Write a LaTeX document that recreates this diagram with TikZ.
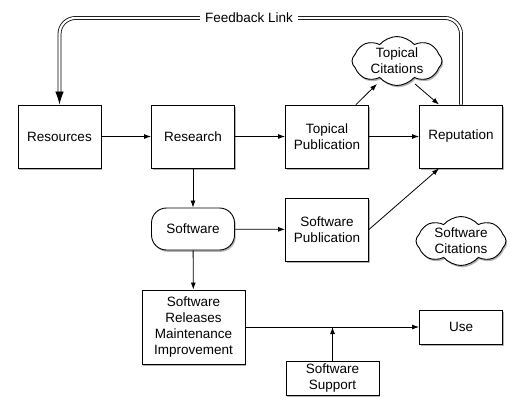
\documentclass[tikz,border=0pt]{standalone}
\usepackage{fontspec}
\setmainfont{Liberation Sans}
\usetikzlibrary{arrows.meta,shapes.symbols,shadows}
\begin{document}
\begin{tikzpicture}[x=1pt,y=-1pt,
  every node/.style={font=\fontsize{13.5}{15.7}\selectfont},
  shad/.style={drop shadow={shadow xshift=1.2pt,shadow yshift=-1.8pt,opacity=0.3,fill=black}},
  box/.style={draw,line width=0.9pt,fill=white,align=center,inner sep=1pt,
    minimum width=83pt,minimum height=63pt,shad},
  cld/.style={cloud,cloud puffs=8,cloud puff arc=100,aspect=2.4,draw,line width=0.9pt,
    fill=white,align=center,inner sep=0pt,minimum width=90pt,minimum height=39pt,shad},
  arr/.style={line width=0.8pt,-{Latex[length=7pt,width=5pt]}},
  fb/.style={double,double distance=2.2pt,line width=0.8pt,rounded corners=16pt}]
\useasboundingbox (0,0) rectangle (532,407);
\node[box] (res) at (59.5,136.5) {Resources};
\node[box] (rch) at (193,136.5) {Research};
\node[box] (tp) at (327,136.5) {Topical\\Publication};
\node[box] (rep) at (461,136.5) {Reputation};
\node[cld] (tc) at (397,61) {Topical\\Citations};
\node[box,rounded corners=15pt,minimum height=42pt] (sw) at (193,229) {Software};
\node[box] (sp) at (327,229.5) {Software\\Publication};
\node[cld] (sc) at (461,241) {Software\\Citations};
\node[box,minimum width=103pt,minimum height=74pt] (rel) at (193.5,327) {Software\\Releases\\Maintenance\\Improvement};
\node[box,minimum height=34pt] (use) at (461,327) {Use};
\node[box,minimum width=93pt,minimum height=34pt] (ss) at (332.5,378) {Software\\Support};
\coordinate (fbr) at (461,18);
\coordinate (fbl) at (59.5,18);
\draw[fb] (rep.north) -- (fbr) -- (fbl) -- ([yshift=12pt]res.north);
\draw[line width=0.8pt,-{Latex[length=13pt,width=8.5pt]}] ([yshift=13pt]res.north) -- (res.north);
\node[fill=white,inner xsep=5pt,inner ysep=1pt] (fbt) at (249,18) {Feedback Link};
\draw[arr] (res) -- (rch);
\draw[arr] (rch) -- (tp);
\draw[arr] (tp) -- (rep);
\draw[arr] (rch) -- (sw);
\draw[arr] (sw) -- (sp);
\draw[arr] (sw) -- (rel);
\draw[arr] (sp.east) -- ([xshift=-22pt]rep.south);
\draw[arr] ([xshift=29pt]tp.north) -- ([xshift=-20pt,yshift=2pt]tc.south);
\draw[arr] ([xshift=18pt,yshift=2pt]tc.south) -- ([xshift=-22pt]rep.north);
\draw[arr] (rel.east) -- (use.west);
\draw[arr] (ss.north) -- (ss.north |- rel.east);
\end{tikzpicture}
\end{document}
